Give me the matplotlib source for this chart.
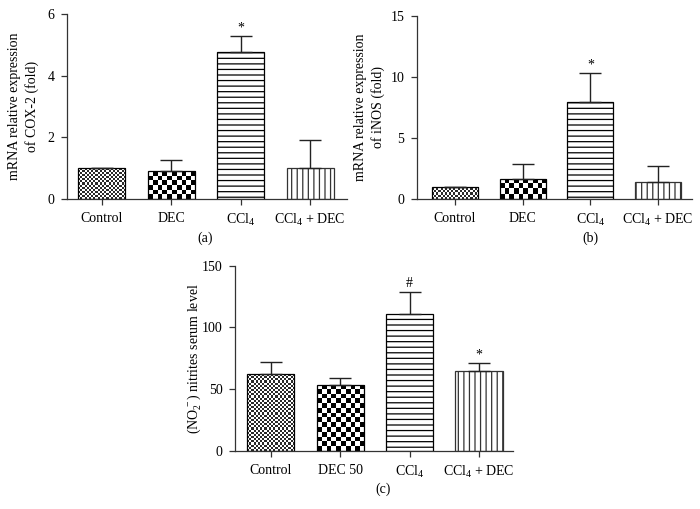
import numpy as np
import matplotlib
matplotlib.use("Agg")
import matplotlib.pyplot as plt
from matplotlib.colors import ListedColormap

plt.rcParams['font.family'] = ['Liberation Serif', 'DejaVu Serif']
plt.rcParams['mathtext.fontset'] = 'custom'
plt.rcParams['mathtext.rm'] = 'Liberation Serif'
plt.rcParams['mathtext.it'] = 'Liberation Serif:italic'
plt.rcParams['hatch.linewidth'] = 0.9

# data
groups_ab = ['Control', 'DEC', r'CCl$_4$', r'CCl$_4$ + DEC']
groups_c = ['Control', 'DEC 50', r'CCl$_4$', r'CCl$_4$ + DEC']

cox2_mean = [1.0, 0.9, 4.78, 1.0]
cox2_err = [0.0, 0.35, 0.52, 0.92]
cox2_marks = ['', '', '*', '']

inos_mean = [1.0, 1.65, 7.95, 1.4]
inos_err = [0.0, 1.25, 2.35, 1.35]
inos_marks = ['', '', '*', '']

no2_mean = [62.0, 53.5, 111.0, 64.5]
no2_err = [10.0, 5.5, 18.0, 6.5]
no2_marks = ['', '', '#', '*']

fig = plt.figure(figsize=(7, 5.09), dpi=100)
W, H = 700, 509
FS = 10

def panel(rect, xlim, ymax, yticks, groups, means, errs, marks, ylabel, tag, tagpos, ylabpos):
    ax = fig.add_axes(rect)
    x = np.arange(len(means))
    width = 0.68
    bars = ax.bar(x, means, width=width, facecolor='none', edgecolor='black',
                  linewidth=0.9, zorder=3)
    bars[2].set_hatch('---')
    bars[3].set_hatch('|||')
    bars[3].set_edgecolor('#333333')
    ax.set_xlim(*xlim)
    ax.set_ylim(0, ymax)
    # checker fills for first two bars
    axh_px = rect[3] * H
    axw_px = rect[2] * W
    bar_px_w = width / (xlim[1] - xlim[0]) * axw_px
    for i, (sq, dark) in enumerate([(2.1, '#2a2a2a'), (4.6, '#000000')]):
        h_px = means[i] / ymax * axh_px
        cols = max(1, int(round(bar_px_w / sq)))
        rows = max(1, int(round(h_px / sq)))
        pat = np.indices((rows, cols)).sum(0) % 2
        im = ax.imshow(pat, cmap=ListedColormap(['white', dark]), interpolation='nearest',
                       extent=(x[i] - width / 2, x[i] + width / 2, 0, means[i]),
                       aspect='auto', zorder=2)
        im.set_clip_path(bars[i])
    ax.set_xlim(*xlim)
    ax.set_ylim(0, ymax)
    ax.errorbar(x, means, yerr=[np.zeros(len(errs)), errs], fmt='none', ecolor='#222222',
                elinewidth=1.0, capsize=8, capthick=1.0, zorder=4)
    for xi, m, e, mk in zip(x, means, errs, marks):
        if mk:
            ax.annotate(mk, (xi, m + e), xytext=(0, 1), textcoords='offset points',
                        ha='center', va='bottom', fontsize=FS)
    for s in ['top', 'right']:
        ax.spines[s].set_visible(False)
    for s in ['left', 'bottom']:
        ax.spines[s].set_color('#333333')
        ax.spines[s].set_linewidth(0.9)
    ax.set_xticks(x)
    ax.set_xticklabels(groups, fontsize=FS)
    ax.set_yticks(yticks)
    ax.tick_params(axis='both', direction='out', length=4, width=0.9, color='#333333',
                   labelsize=FS, pad=5)
    ax.set_ylabel(ylabel, fontsize=FS, linespacing=1.35)
    ax.yaxis.set_label_coords(*ylabpos)
    fig.text(tagpos[0] / W, 1 - tagpos[1] / H, tag, ha='center', va='center', fontsize=FS)
    return ax

panel([67 / W, 1 - 199 / H, 280 / W, 185 / H], (-0.5, 3.53), 6, [0, 2, 4, 6],
      groups_ab, cox2_mean, cox2_err, cox2_marks,
      'mRNA relative expression\nof COX-2 (fold)', '(a)', (205, 238), (-0.1, 0.5))

panel([416.7 / W, 1 - 199.3 / H, 275.3 / W, 183.6 / H], (-0.566, 3.5), 15, [0, 5, 10, 15],
      groups_ab, inos_mean, inos_err, inos_marks,
      'mRNA relative expression\nof iNOS (fold)', '(b)', (590, 238), (-0.115, 0.5))

panel([235 / W, 1 - 451 / H, 278 / W, 185.3 / H], (-0.514, 3.49), 150, [0, 50, 100, 150],
      groups_c, no2_mean, no2_err, no2_marks,
      r'(NO$_2^{\,-}$) nitrites serum level', '(c)', (383, 489), (-0.115, 0.5))

fig.savefig('out.png', dpi=100)
